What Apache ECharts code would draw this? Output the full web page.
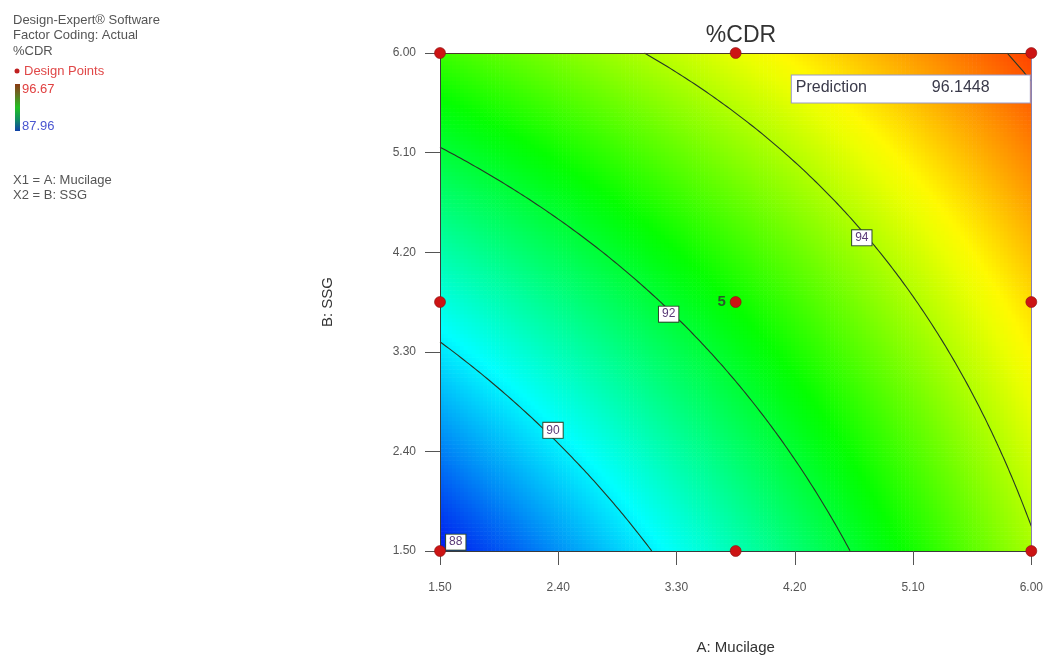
<!DOCTYPE html>
<html>
<head>
<meta charset="utf-8">
<script src="https://cdn.jsdelivr.net/npm/echarts@6/dist/echarts.min.js"></script>
<style>
  html, body { margin: 0; padding: 0; background: #fff; }
  #chart { width: 1046px; height: 660px; }
</style>
</head>
<body>
<div id="chart"></div>
<script>
// ---- Data -----------------------------------------------------------------
// Factor ranges (actual units)
const mucilageRange = [1.5, 6.0];
const ssgRange = [1.5, 6.0];
const tickValues = [1.5, 2.4, 3.3, 4.2, 5.1, 6.0];

// Fitted quadratic model for %CDR in coded factors:
// intercept, A, B, AB, A^2, B^2
const modelCoefs = [92.5708, 2.27, 1.82, -0.70, 0.10, 0.084];

// Observed response range (colour scale)
const responseRange = [87.96, 96.67];

// Contour levels and where their value tags sit (A, B)
const contourLevels = [88, 90, 92, 94, 96];
const contourTagLevels = [88, 90, 92, 94];
const contourTagA = [1.62, 2.36, 3.24, 4.71];
const contourTagB = [1.58, 2.59, 3.64, 4.33];

// Design points (A: Mucilage, B: SSG) and replicate counts
const designA = [1.5, 3.75, 6.0, 1.5, 3.75, 6.0, 1.5, 3.75, 6.0];
const designB = [1.5, 1.5, 1.5, 3.75, 3.75, 3.75, 6.0, 6.0, 6.0];
const designRuns = [1, 1, 1, 1, 5, 1, 1, 1, 1];

// Flagged prediction
const predictionAt = [6.0, 6.0];
const predictionValue = 96.1448;

// ---- Model helpers --------------------------------------------------------
const FONT = '"Liberation Sans", Arial, sans-serif';
const centerA = (mucilageRange[0] + mucilageRange[1]) / 2;
const halfA = (mucilageRange[1] - mucilageRange[0]) / 2;
const centerB = (ssgRange[0] + ssgRange[1]) / 2;
const halfB = (ssgRange[1] - ssgRange[0]) / 2;
const [b0, b1, b2, b12, b11, b22] = modelCoefs;

function predictCoded(x1, x2) {
  return b0 + b1 * x1 + b2 * x2 + b12 * x1 * x2 + b11 * x1 * x1 + b22 * x2 * x2;
}
function predict(A, B) {
  return predictCoded((A - centerA) / halfA, (B - centerB) / halfB);
}
// root of a*t^2 + b*t + c = 0 on the branch that runs through the design space
function quadRoot(a, b, c) {
  if (Math.abs(a) < 1e-12) return -c / b;
  const d = b * b - 4 * a * c;
  if (d < 0) return NaN;
  return (-b + Math.sqrt(d)) / (2 * a);
}

// Colour cells of the response surface
const nA = 150, nB = 126;
const cells = [];
for (let i = 0; i < nA; i++) {
  const a0 = mucilageRange[0] + (mucilageRange[1] - mucilageRange[0]) * i / nA;
  const a1 = mucilageRange[0] + (mucilageRange[1] - mucilageRange[0]) * (i + 1) / nA;
  for (let j = 0; j < nB; j++) {
    const c0 = ssgRange[0] + (ssgRange[1] - ssgRange[0]) * j / nB;
    const c1 = ssgRange[0] + (ssgRange[1] - ssgRange[0]) * (j + 1) / nB;
    cells.push([a0, a1, c0, c1, predict((a0 + a1) / 2, (c0 + c1) / 2)]);
  }
}

// Contour polylines of the model
function contourLine(level) {
  const pts = [];
  const N = 600;
  for (let i = 0; i <= N; i++) {
    const x1 = -1 + 2 * i / N;
    const x2 = quadRoot(b22, b2 + b12 * x1, b0 + b1 * x1 + b11 * x1 * x1 - level);
    if (x2 >= -1 && x2 <= 1) pts.push([x1, x2]);
  }
  [-1, 1].forEach(function (x2) {
    const x1 = quadRoot(b11, b1 + b12 * x2, b0 + b2 * x2 + b22 * x2 * x2 - level);
    if (x1 >= -1 && x1 <= 1) pts.push([x1, x2]);
  });
  pts.sort(function (p, q) { return p[0] - q[0]; });
  return pts.map(function (p) { return [centerA + p[0] * halfA, centerB + p[1] * halfB]; });
}

// Rainbow ramp with uneven key positions, sampled into an even colour list
const rampKeys = [
  [0.00, [0, 24, 238]],
  [0.25, [0, 255, 255]],
  [0.52, [0, 255, 0]],
  [0.77, [255, 255, 0]],
  [1.00, [255, 0, 0]]
];
function rampColor(t) {
  for (let k = 1; k < rampKeys.length; k++) {
    if (t <= rampKeys[k][0]) {
      const [t0, c0] = rampKeys[k - 1];
      const [t1, c1] = rampKeys[k];
      const u = (t - t0) / (t1 - t0);
      const c = c0.map(function (v, i) { return Math.round(v + (c1[i] - v) * u); });
      return 'rgb(' + c.join(',') + ')';
    }
  }
  return 'rgb(255,0,0)';
}
const rampColors = [];
for (let k = 0; k <= 40; k++) rampColors.push(rampColor(k / 40));

// ---- Chart ----------------------------------------------------------------
const chart = echarts.init(document.getElementById('chart'), null, { renderer: 'canvas' });

const axisLabelStyle = { color: '#555', fontSize: 12, fontFamily: FONT };

const contourSeries = contourLevels.map(function (lv) {
  return {
    type: 'line',
    name: 'contour ' + lv,
    data: contourLine(lv),
    symbol: 'none',
    silent: true,
    z: 3,
    lineStyle: { color: '#263826', width: 1.1 }
  };
});

const option = {
  animation: false,
  backgroundColor: '#fff',
  title: {
    text: '%CDR',
    left: 736,
    top: 19,
    textAlign: 'center',
    textStyle: { fontSize: 23, fontWeight: 'normal', color: '#333', fontFamily: FONT }
  },
  grid: { left: 440, right: 14, top: 53, bottom: 107 },
  visualMap: {
    type: 'continuous',
    show: false,
    seriesIndex: 0,
    dimension: 4,
    min: responseRange[0],
    max: responseRange[1],
    inRange: { color: rampColors }
  },
  xAxis: [{
    type: 'value',
    min: mucilageRange[0],
    max: mucilageRange[1],
    z: 10,
    name: 'A: Mucilage',
    nameLocation: 'middle',
    nameGap: 89,
    nameTextStyle: { color: '#333', fontSize: 15, fontFamily: FONT },
    axisLine: { show: true, lineStyle: { color: '#3a3a3a', width: 1 } },
    axisTick: { show: true, customValues: tickValues, length: 14, lineStyle: { color: '#555' } },
    axisLabel: Object.assign({ customValues: tickValues, margin: 31,
      formatter: function (v) { return v.toFixed(2); } }, axisLabelStyle),
    splitLine: { show: false }
  }, {
    type: 'value',
    position: 'top',
    min: mucilageRange[0],
    max: mucilageRange[1],
    z: 10,
    axisLine: { show: true, lineStyle: { color: '#4a3a2a', width: 1 } },
    axisTick: { show: false },
    axisLabel: { show: false },
    splitLine: { show: false }
  }],
  yAxis: [{
    type: 'value',
    min: ssgRange[0],
    max: ssgRange[1],
    z: 10,
    name: 'B: SSG',
    nameLocation: 'middle',
    nameRotate: 90,
    nameGap: 105,
    nameTextStyle: { color: '#333', fontSize: 15, fontFamily: FONT },
    axisLine: { show: true, lineStyle: { color: '#3a3a3a', width: 1 } },
    axisTick: { show: true, customValues: tickValues, length: 15, lineStyle: { color: '#555' } },
    axisLabel: Object.assign({ customValues: tickValues, margin: 24,
      formatter: function (v) { return v.toFixed(2); } }, axisLabelStyle),
    splitLine: { show: false }
  }, {
    type: 'value',
    position: 'right',
    min: ssgRange[0],
    max: ssgRange[1],
    z: 10,
    axisLine: { show: true, lineStyle: { color: '#8a80b0', width: 1 } },
    axisTick: { show: false },
    axisLabel: { show: false },
    splitLine: { show: false }
  }],
  series: [
    {
      type: 'custom',
      name: 'surface',
      data: cells,
      silent: true,
      progressive: 0,
      z: 1,
      encode: { x: [0, 1], y: [2, 3] },
      renderItem: function (params, api) {
        const p0 = api.coord([api.value(0), api.value(3)]);
        const p1 = api.coord([api.value(1), api.value(2)]);
        return {
          type: 'rect',
          shape: { x: p0[0], y: p0[1], width: p1[0] - p0[0] + 0.6, height: p1[1] - p0[1] + 0.6 },
          style: { fill: api.visual('color') }
        };
      }
    }
  ].concat(contourSeries).concat([
    {
      type: 'scatter',
      name: 'contour tags',
      silent: true,
      z: 4,
      symbolSize: 1,
      itemStyle: { color: 'rgba(0,0,0,0)', opacity: 1 },
      data: contourTagLevels.map(function (lv, i) { return [contourTagA[i], contourTagB[i], lv]; }),
      label: {
        show: true,
        position: 'inside',
        formatter: function (p) { return String(p.value[2]); },
        color: '#5a3a78',
        fontSize: 12,
        fontFamily: FONT,
        backgroundColor: '#ffffff',
        borderColor: '#2f4a2f',
        borderWidth: 1,
        padding: [2, 3, 1, 3]
      }
    },
    {
      type: 'scatter',
      name: 'Design Points',
      silent: true,
      z: 12,
      symbol: 'circle',
      symbolSize: 11,
      itemStyle: { color: '#cc1414', borderColor: '#8a1010', borderWidth: 0.6, opacity: 1 },
      data: designA.map(function (a, i) { return [a, designB[i], designRuns[i]]; }),
      label: {
        show: true,
        position: 'left',
        distance: 4,
        formatter: function (p) { return p.value[2] > 1 ? String(p.value[2]) : ''; },
        color: '#2a5a2a',
        fontSize: 15,
        fontWeight: 'bold',
        fontFamily: FONT
      }
    },
    {
      type: 'scatter',
      name: 'Prediction',
      silent: true,
      z: 11,
      symbolSize: 1,
      itemStyle: { color: 'rgba(0,0,0,0)', opacity: 1 },
      data: [[predictionAt[0], predictionAt[1], predictionValue]],
      label: {
        show: true,
        position: [-239, 23],
        formatter: function (p) { return '{a|Prediction}{b|' + p.value[2] + '}'; },
        backgroundColor: '#ffffff',
        borderColor: '#9a9ac8',
        borderWidth: 1,
        width: 230,
        height: 19,
        padding: [4, 4, 4, 4],
        rich: {
          a: { width: 136, fontSize: 16, color: '#3a3a4a', fontFamily: FONT },
          b: { fontSize: 16, color: '#3a3a4a', fontFamily: FONT }
        }
      }
    }
  ]),
  graphic: [
    { type: 'text', x: 13, y: 20, silent: true,
      style: { text: 'Design-Expert® Software', font: '13px ' + FONT, fill: '#555', verticalAlign: 'middle' } },
    { type: 'text', x: 13, y: 35, silent: true,
      style: { text: 'Factor Coding: Actual', font: '13px ' + FONT, fill: '#555', verticalAlign: 'middle' } },
    { type: 'text', x: 13, y: 51, silent: true,
      style: { text: '%CDR', font: '13px ' + FONT, fill: '#555', verticalAlign: 'middle' } },
    { type: 'circle', silent: true, shape: { cx: 17, cy: 71, r: 2.5 }, style: { fill: '#c02020' } },
    { type: 'text', x: 24, y: 71, silent: true,
      style: { text: 'Design Points', font: '13px ' + FONT, fill: '#e04848', verticalAlign: 'middle' } },
    { type: 'rect', silent: true, shape: { x: 15, y: 84, width: 5, height: 47 },
      style: { fill: new echarts.graphic.LinearGradient(0, 0, 0, 1, [
        { offset: 0, color: '#8a3a12' },
        { offset: 0.2, color: '#6a6a22' },
        { offset: 0.5, color: '#22c022' },
        { offset: 0.75, color: '#129060' },
        { offset: 1, color: '#1040a8' }
      ]) } },
    { type: 'text', x: 22, y: 89, silent: true,
      style: { text: String(responseRange[1]), font: '13px ' + FONT, fill: '#e04040', verticalAlign: 'middle' } },
    { type: 'text', x: 22, y: 126, silent: true,
      style: { text: String(responseRange[0]), font: '13px ' + FONT, fill: '#4a55d0', verticalAlign: 'middle' } },
    { type: 'text', x: 13, y: 180, silent: true,
      style: { text: 'X1 = A: Mucilage', font: '13px ' + FONT, fill: '#555', verticalAlign: 'middle' } },
    { type: 'text', x: 13, y: 195, silent: true,
      style: { text: 'X2 = B: SSG', font: '13px ' + FONT, fill: '#555', verticalAlign: 'middle' } }
  ]
};

chart.setOption(option);
</script>
</body>
</html>
